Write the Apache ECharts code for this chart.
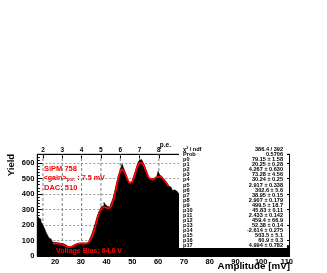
<!DOCTYPE html>
<html>
<head>
<meta charset="utf-8">
<script src="https://cdn.jsdelivr.net/npm/echarts@6/dist/echarts.min.js"></script>
<style>html,body{margin:0;padding:0;background:#fff}#c{width:327px;height:273px}</style>
</head>
<body>
<div id="c"></div>
<script>
// ---- data ----
const xTicks = [20, 30, 40, 50, 60, 70, 80, 90, 100, 110];
const peLabels = ['2', '3', '4', '5', '6', '7', '8'];
const pePositions = [15.3, 22.8, 30.3, 37.8, 45.3, 52.8, 60.3];
const histStart = 13.0;
const histWidth = 0.5;
const histCounts = [
  262, 248, 236, 221, 205, 190, 172, 150, 136, 118,
  108, 98, 88, 86, 92, 84, 90, 82, 86, 80,
  78, 72, 68, 62, 64, 58, 62, 66, 70, 74,
  78, 80, 86, 82, 88, 84, 86, 82, 88, 90,
  96, 112, 128, 150, 178, 205, 232, 262, 285, 300,
  318, 322, 345, 330, 318, 322, 316, 330, 348, 372,
  405, 440, 478, 512, 540, 565, 592, 570, 548, 525,
  500, 485, 472, 478, 492, 512, 538, 565, 592, 612,
  622, 616, 608, 590, 568, 545, 522, 505, 498, 492,
  500, 505, 512, 520, 545, 522, 512, 505, 496, 482,
  470, 462, 452, 444, 432, 422, 426, 420, 414, 408
];
const tailStart = 68;
const tailWidth = 2;
const tailCounts = [400, 380, 350, 320, 290, 260, 230, 205, 185, 165, 150, 135, 122, 112, 102, 94, 86, 80, 74, 70, 66];
const fitX = [19.1, 20, 21, 22, 23, 24, 25, 26, 27, 28, 29, 30, 31, 32, 33, 34, 35, 36, 37, 38, 39, 40, 41, 42, 43, 44, 45, 46, 47, 48, 49, 50, 51, 52, 53, 54, 55, 56, 57, 58, 59, 60, 61, 62, 63, 64];
const fitY = [80, 82, 81, 78, 72, 64, 58, 58, 64, 74, 80, 82, 80, 80, 88, 112, 155, 215, 272, 305, 315, 310, 308, 330, 385, 460, 530, 558, 540, 500, 472, 480, 525, 578, 602, 596, 562, 520, 495, 495, 505, 512, 510, 498, 478, 450];
const statNames = ['χ² / ndf', 'Prob', 'p0', 'p1', 'p2', 'p3', 'p4', 'p5', 'p6', 'p7', 'p8', 'p9', 'p10', 'p11', 'p12', 'p13', 'p14', 'p15', 'p16', 'p17'];
const statValues = ['386.4 / 392', '0.5706', '79.15 ± 1.58', '20.25 ± 0.28', '4.267 ± 0.630', '73.28 ± 4.56', '30.24 ± 0.25', '2.917 ± 0.338', '302.6 ± 5.6', '38.95 ± 0.15', '2.907 ± 0.179', '499.5 ± 18.7', '45.83 ± 0.11', '2.433 ± 0.142', '459.4 ± 66.9', '52.38 ± 0.14', '-2.614 ± 0.275', '503.5 ± 5.1', '60.9 ± 0.3', '4.994 ± 0.782'];

const xMin = 13.1, xMax = 111, yMax = 656;

// ---- build ----
const histPts = histCounts.map((c, i) => [histStart + i * histWidth, c]);
tailCounts.forEach((c, i) => histPts.push([tailStart + i * tailWidth, c]));
histPts.push([xMax, tailCounts[tailCounts.length - 1]]);
const fitPts = fitX.map((x, i) => [x, fitY[i]]);

const FONT = 'Liberation Sans, Arial, Helvetica, sans-serif';
const chart = echarts.init(document.getElementById('c'), null, {renderer: 'canvas'});

const graphics = [];
// stats box
graphics.push({type: 'rect', shape: {x: 179, y: 147, width: 108, height: 101}, style: {fill: '#fff'}, z: 100});
statNames.forEach((n, i) => {
  const y = 149.5 + i * 5.07;
  graphics.push({type: 'text', x: 183, y: y, z: 101,
    style: {text: n, font: 'bold 5.6px ' + FONT, fill: '#000', textVerticalAlign: 'middle', textAlign: 'left'}});
  graphics.push({type: 'text', x: 283, y: y, z: 101,
    style: {text: statValues[i], font: 'bold 5.6px ' + FONT, fill: '#000', textVerticalAlign: 'middle', textAlign: 'right'}});
});
// red annotations
graphics.push({type: 'text', x: 44, y: 168.5, z: 50, style: {text: 'SiPM 758', font: 'bold 7.5px ' + FONT, fill: '#ff0000', textVerticalAlign: 'middle'}});
graphics.push({type: 'text', x: 43.5, y: 178, z: 50, style: {
  text: '{a|<gain>}{s|p.e.}{a| : 7.5 mV}', textVerticalAlign: 'middle',
  rich: {a: {font: 'bold 7.2px ' + FONT, fill: '#ff0000'}, s: {font: 'bold 5px ' + FONT, fill: '#ff0000', padding: [4, 0, 0, 0]}}}});
graphics.push({type: 'text', x: 44, y: 188, z: 50, style: {text: 'DAC: 510', font: 'bold 7.5px ' + FONT, fill: '#ff0000', textVerticalAlign: 'middle'}});
graphics.push({type: 'text', x: 56, y: 251, z: 50, style: {text: 'Voltage Bias: 64.6 V', font: 'bold 7px ' + FONT, fill: '#ff0000', textVerticalAlign: 'middle'}});
// titles
graphics.push({type: 'text', x: 290, y: 266.5, z: 50, style: {text: 'Amplitude [mV]', font: 'bold 9.8px ' + FONT, fill: '#000', textAlign: 'right', textVerticalAlign: 'middle'}});
graphics.push({type: 'text', x: 11, y: 165, rotation: Math.PI / 2, z: 50, style: {text: 'Yield', font: 'bold 9.5px ' + FONT, fill: '#000', textAlign: 'center', textVerticalAlign: 'middle'}});
graphics.push({type: 'text', x: 171, y: 145, z: 50, style: {text: 'p.e.', font: 'bold 6.5px ' + FONT, fill: '#000', textAlign: 'right', textVerticalAlign: 'middle'}});

const peGridSeries = pePositions.map(p => ({
  type: 'line', xAxisIndex: 0, yAxisIndex: 0, data: [[p, 0], [p, yMax]], z: 1, silent: true, symbol: 'none',
  lineStyle: {color: '#808080', width: 1, type: [3, 2]}
}));

const option = {
  animation: false,
  backgroundColor: '#fff',
  grid: {left: 37.3, top: 154.3, right: 327 - 289.5, bottom: 273 - 256, show: true, borderColor: '#000', borderWidth: 1, backgroundColor: 'transparent'},
  xAxis: [
    {type: 'value', position: 'bottom', min: xMin, max: xMax,
      axisLine: {show: true, lineStyle: {color: '#000', width: 1}},
      axisTick: {show: true, inside: true, length: 5, lineStyle: {color: '#000'}, customValues: xTicks},
      axisLabel: {show: true, customValues: xTicks, color: '#000', fontFamily: FONT, fontWeight: 'bold', fontSize: 7.5, margin: 2},
      splitLine: {show: false}},
    {type: 'value', position: 'top', min: xMin, max: xMax,
      axisLine: {show: true, onZero: false, lineStyle: {color: '#000', width: 1}},
      axisTick: {show: true, inside: true, length: 4, lineStyle: {color: '#000'}, customValues: pePositions},
      axisLabel: {show: true, customValues: pePositions, color: '#000', fontFamily: FONT, fontWeight: 'bold', fontSize: 6.5, margin: 1,
        formatter: v => { let b = 0, d = 1e9; pePositions.forEach((p, i) => { if (Math.abs(p - v) < d) { d = Math.abs(p - v); b = i; } }); return peLabels[b]; }},
      splitLine: {show: false}}
  ],
  yAxis: [
    {type: 'value', min: 0, max: yMax, interval: 100,
      axisLine: {show: true, lineStyle: {color: '#000'}},
      axisTick: {show: true, inside: true, length: 5, lineStyle: {color: '#000'}},
      minorTick: {show: true, splitNumber: 5, length: 2.5, lineStyle: {color: '#000'}},
      axisLabel: {color: '#000', fontFamily: FONT, fontWeight: 'bold', fontSize: 7.5, margin: 3,
        showMaxLabel: false},
      splitLine: {show: true, lineStyle: {color: '#808080', width: 0.8, type: [2, 2]}}},
    {type: 'value', position: 'right', min: 0, max: yMax, interval: 100,
      axisLine: {show: true, lineStyle: {color: '#000'}},
      axisTick: {show: true, inside: true, length: 4, lineStyle: {color: '#000'}},
      axisLabel: {show: false}, splitLine: {show: false}}
  ],
  graphic: graphics,
  series: peGridSeries.concat([
    {type: 'line', xAxisIndex: 0, yAxisIndex: 0, data: histPts, step: 'end', symbol: 'none', z: 3, clip: true,
      lineStyle: {color: '#000', width: 0.8}, areaStyle: {color: '#000', opacity: 1}},
    {type: 'line', xAxisIndex: 0, yAxisIndex: 0, data: fitPts, smooth: 0.4, symbol: 'none', z: 4,
      lineStyle: {color: '#ff0000', width: 1.8}}
  ])
};
chart.setOption(option);
</script>
</body>
</html>
